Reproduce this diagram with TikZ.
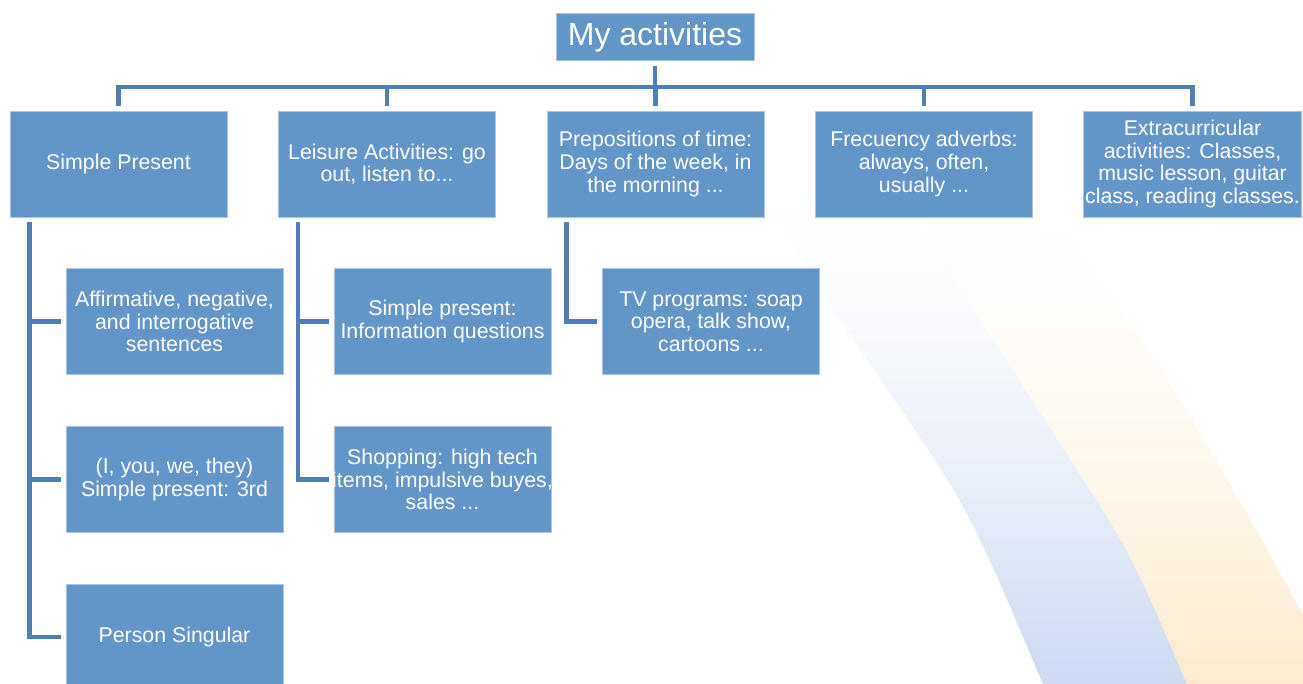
\documentclass[tikz,border=0pt]{standalone}
\usepackage{fontspec}
\setmainfont{Liberation Sans}
\definecolor{boxblue}{RGB}{98,149,200}
\definecolor{linkblue}{RGB}{79,126,178}
\definecolor{bandblue}{RGB}{205,218,241}
\definecolor{bandorange}{RGB}{253,234,204}
\tikzset{
  box/.style={rectangle, fill=boxblue, draw=boxblue!55!white, line width=.6pt, text=white, align=center,
    minimum width=162.75pt, minimum height=79.5pt, inner sep=1pt, font=\fontsize{16}{17}\selectfont},
  conn/.style={draw=linkblue, line width=3.2pt, shorten <=3.75pt, shorten >=3.75pt}
}
\newcommand\blueband{plot[smooth] coordinates {(748,170) (770,207) (827,301) (960,501) (1043,684) (1048,700)}
  -- plot[smooth] coordinates {(1192,700) (1187,684) (1127,551) (1043,417) (947,267) (891,180)} -- cycle}
\newcommand\orangeband{plot[smooth] coordinates {(891,180) (947,267) (1043,417) (1127,551) (1187,684) (1192,700)}
  -- plot[smooth] coordinates {(1350,700) (1340,684) (1260,537) (1160,367) (1053,211) (1032,180)} -- cycle}
\begin{document}
\begin{tikzpicture}[x=.75pt,y=-.75pt]
\useasboundingbox (0,0) rectangle (1303,684);
% background bands, faded in strips
\begin{scope}
\clip \blueband;
\foreach \i [evaluate=\i as \p using 100*(\i/50)^1.5] in {0,...,50}
  \fill[bandblue!\p!white] (700,180+\i*10) rectangle (1360,193+\i*10);
\end{scope}
\begin{scope}
\clip \orangeband;
\foreach \i [evaluate=\i as \p using 100*(\i/50)^1.7] in {0,...,50}
  \fill[bandorange!\p!white] (700,180+\i*10) rectangle (1360,193+\i*10);
\end{scope}
\node[box, minimum width=148.5pt, minimum height=35.25pt, font=\fontsize{24}{26}\selectfont] (act0) at (655,37){My activities};
\node[box] (act1) at (118.5,164){Simple Present};
\node[box] (act6) at (174.5,321.5){Affirmative, negative,\\and interrogative\\sentences};
\node[box] (act7) at (174.5,479.5){(I, you, we, they)\\Simple present: 3rd};
\node[box] (act8) at (174.5,637){Person Singular};
\draw[conn]([xshift=15pt]act1.south west) |- (act6.west);
\draw[conn]([xshift=15pt]act1.south west) |- (act7.west);
\draw[conn]([xshift=15pt]act1.south west) |- (act8.west);
\node[box] (act2) at (387,164){Leisure Activities: go\\out, listen to...};
\node[box] (act9) at (442.5,321.5){Simple present:\\Information questions};
\node[box] (act10) at (442.5,479.5){Shopping: high tech\\\makebox[0pt]{items, impulsive buyes,}\\sales ...};
\draw[conn]([xshift=15pt]act2.south west) |- (act9.west);
\draw[conn]([xshift=15pt]act2.south west) |- (act10.west);
\node[box] (act3) at (655.5,164){Prepositions of time:\\Days of the week, in\\the morning ...};
\node[box] (act11) at (711,321.5){TV programs: soap\\opera, talk show,\\cartoons ...};
\draw[conn]([xshift=15pt]act3.south west) |- (act11.west);
\node[box] (act4) at (924,164){Frecuency adverbs:\\always, often,\\usually ...};
\node[box] (act5) at (1192.5,164){Extracurricular\\activities: Classes,\\music lesson, guitar\\class, reading classes.};
\draw[conn](act0.south) -- ++(0,26) -| (act1.north);
\draw[conn](act0.south) -- ++(0,26) -| (act2.north);
\draw[conn](act0.south) -- ++(0,26) -| (act3.north);
\draw[conn](act0.south) -- ++(0,26) -| (act4.north);
\draw[conn](act0.south) -- ++(0,26) -| (act5.north);
\end{tikzpicture}
\end{document}
